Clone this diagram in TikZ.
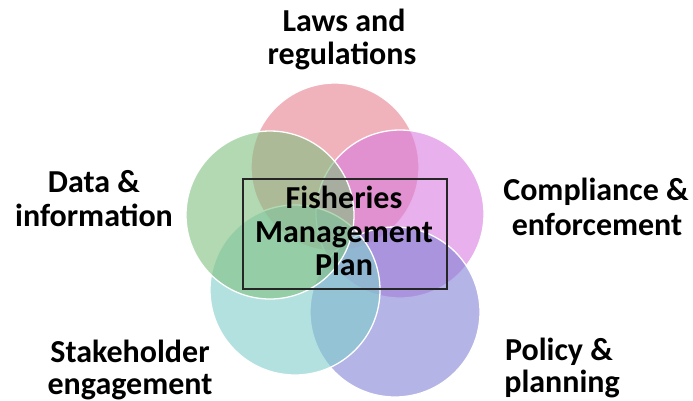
\documentclass[tikz,border=0pt]{standalone}
\usepackage{fontspec}
\setmainfont{Carlito}
\begin{document}
\begin{tikzpicture}[x=1pt,y=-1pt,
  petal/.style={draw=white, line width=1.3pt, fill opacity=0.6, draw opacity=1},
  lbl/.style={font=\bfseries\fontsize{32}{35}\selectfont, anchor=base, inner sep=0pt, text=black},
  core/.style={draw=black!85, line width=1.6pt}]
\useasboundingbox (0,0) rectangle (693,400);
\definecolor{cpink}{RGB}{232,128,142}
\definecolor{cgreen}{RGB}{128,192,128}
\definecolor{cmag}{RGB}{217,123,223}
\definecolor{cteal}{RGB}{128,205,202}
\definecolor{cblue}{RGB}{130,130,213}
\node[petal, fill=cpink, circle, minimum size=168pt, inner sep=0pt] (pink) at (335,167) {};
\node[petal, fill=cmag, circle, minimum size=168pt, inner sep=0pt] (mag) at (400,214) {};
\node[petal, fill=cblue, circle, minimum size=170pt, inner sep=0pt] (blue) at (395,312) {};
\node[petal, fill=cteal, circle, minimum size=170pt, inner sep=0pt] (teal) at (295,290) {};
\node[petal, fill=cgreen, circle, minimum size=168pt, inner sep=0pt] (green) at (270,215) {};
\draw[core] (243,179) rectangle (447,289);
\node[lbl] (f1) at (344,208) {Fisheries};
\node[lbl] (f2) at (344,242) {Management};
\node[lbl] (f3) at (344,275) {Plan};
\node[lbl] (l1) at (344,31) {Laws and};
\node[lbl] (l2) at (342,64) {regulations};
\node[lbl] (d1) at (94,192) {Data \&};
\node[lbl] (d2) at (94,226) {information};
\node[lbl] (c1) at (596,200) {Compliance \&};
\node[lbl] (c2) at (597,235) {enforcement};
\node[lbl] (s1) at (130,362) {Stakeholder};
\node[lbl] (s2) at (130,394) {engagement};
\node[lbl] (p1) at (559,360) {Policy \&};
\node[lbl] (p2) at (562,392) {planning};
\end{tikzpicture}
\end{document}
